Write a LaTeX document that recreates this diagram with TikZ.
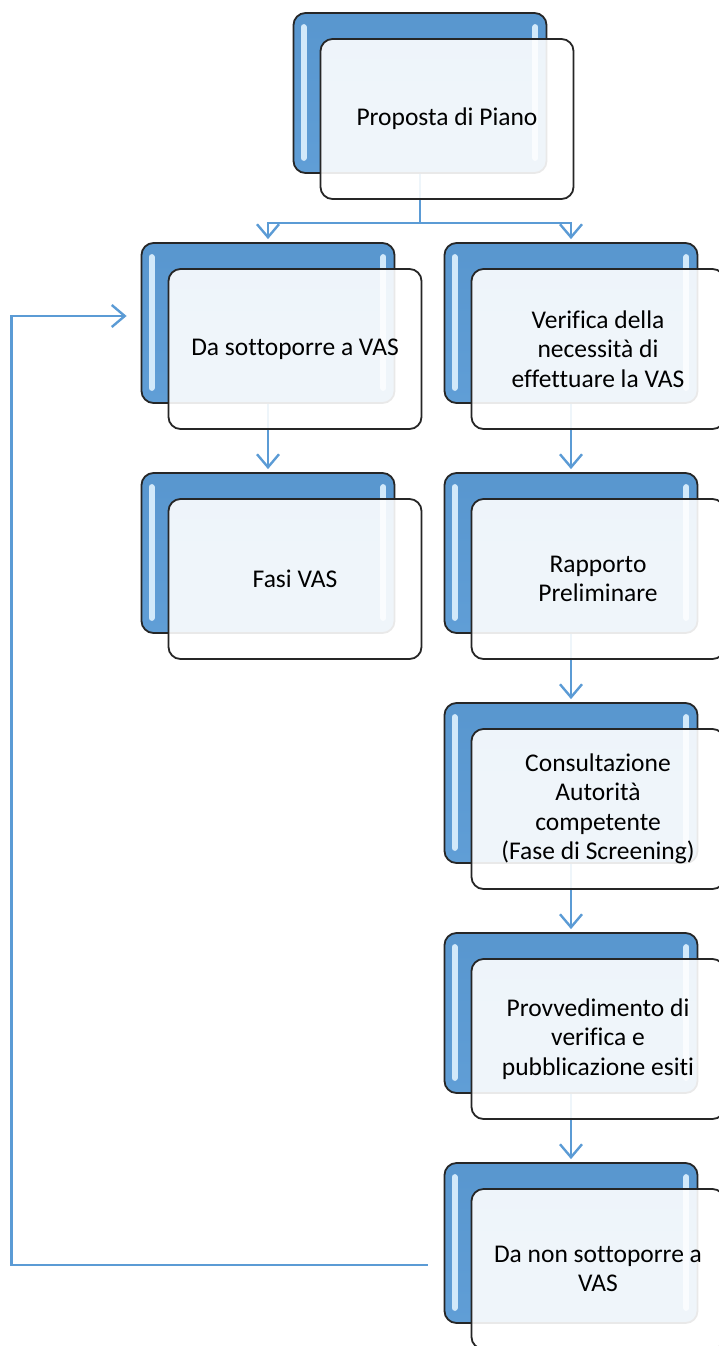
\documentclass[tikz,border=0pt]{standalone}
\usepackage{fontspec}
\setmainfont[Ligatures=NoCommon]{Carlito}
\usetikzlibrary{positioning,arrows.meta}
\definecolor{vasblue}{HTML}{5B9BD5}
\definecolor{edge}{HTML}{262626}
\definecolor{glint}{HTML}{D2E9FA}

\begin{document}
\begin{tikzpicture}[x=1pt,y=-1pt,
node distance =230pt and 303pt ,on grid ,
backcard/.style ={rectangle ,rounded corners=12pt ,draw=edge ,line width=1.8pt ,
  top color=vasblue!97!black ,bottom color=vasblue!97!white ,
  minimum width=253pt ,minimum height=160pt},
frontcard/.style ={rectangle ,rounded corners=12pt ,draw=edge ,line width=1.8pt ,
  fill=white ,fill opacity=0.9 ,text opacity=1 ,
  minimum width=253pt ,minimum height=160pt ,align=center ,
  font=\fontsize{25.5}{29.5}\selectfont},
link/.style ={draw=vasblue ,line width=2.4pt ,-{Straight Barb[length=13pt,width=22pt]}},
stripe/.style ={glint ,line width=6pt ,line cap=round}
]
\useasboundingbox (0,0) rectangle (719,1346);
\clip (0,0) rectangle (719,1346);

% blue cards behind
\node[backcard] (propB) at (420,93) {};
\node[backcard] (daB) [below left = 230pt and 152pt of propB] {};
\node[backcard] (verB) [right = of daB] {};
\node[backcard] (fasiB) [below = of daB] {};
\node[backcard] (rapB) [below = of verB] {};
\node[backcard] (conB) [below = of rapB] {};
\node[backcard] (provB) [below = of conB] {};
\node[backcard] (daNonB) [below = of provB] {};
\foreach \b in {propB,daB,verB,fasiB,rapB,conB,provB,daNonB} {
  \draw[stripe] ([shift={(11pt,-15pt)}]\b.north west) -- ([shift={(11pt,16pt)}]\b.south west);
  \draw[stripe] ([shift={(-12pt,-15pt)}]\b.north east) -- ([shift={(-12pt,16pt)}]\b.south east);
}

\draw[link] (propB.south) -- ++(0,49) -| ([yshift=3pt]daB.north);
\draw[link] (propB.south) -- ++(0,49) -| ([yshift=3pt]verB.north);
\draw[link] (daB.south) -- ([yshift=3pt]fasiB.north);
\draw[link] (verB.south) -- ([yshift=3pt]rapB.north);
\draw[link] (rapB.south) -- ([yshift=3pt]conB.north);
\draw[link] (conB.south) -- ([yshift=3pt]provB.north);
\draw[link] (provB.south) -- ([yshift=3pt]daNonB.north);
\draw[link] ([shift={(-16pt,-22pt)}]daNonB.west) -- ++(-416,0) |- ([shift={(-14pt,7pt)}]daB.west);

% white cards in front
\node[frontcard] (propF) [below right = 26pt and 27pt of propB] {Proposta di Piano};
\node[frontcard] (daF) [below right = 26pt and 27pt of daB] {Da sottoporre a VAS};
\node[frontcard] (verF) [below right = 26pt and 27pt of verB] {Verifica della\\ necessità di\\ effettuare la VAS};
\node[frontcard] (fasiF) [below right = 26pt and 27pt of fasiB] {Fasi VAS};
\node[frontcard] (rapF) [below right = 26pt and 27pt of rapB] {Rapporto\\ Preliminare};
\node[frontcard] (conF) [below right = 26pt and 27pt of conB] {Consultazione\\ Autorità\\ competente\\ (Fase di Screening)};
\node[frontcard] (provF) [below right = 26pt and 27pt of provB] {Provvedimento di\\ verifica e\\ pubblicazione esiti};
\node[frontcard] (daNonF) [below right = 26pt and 27pt of daNonB] {Da non sottoporre a\\ VAS};
\end{tikzpicture}
\end{document}
